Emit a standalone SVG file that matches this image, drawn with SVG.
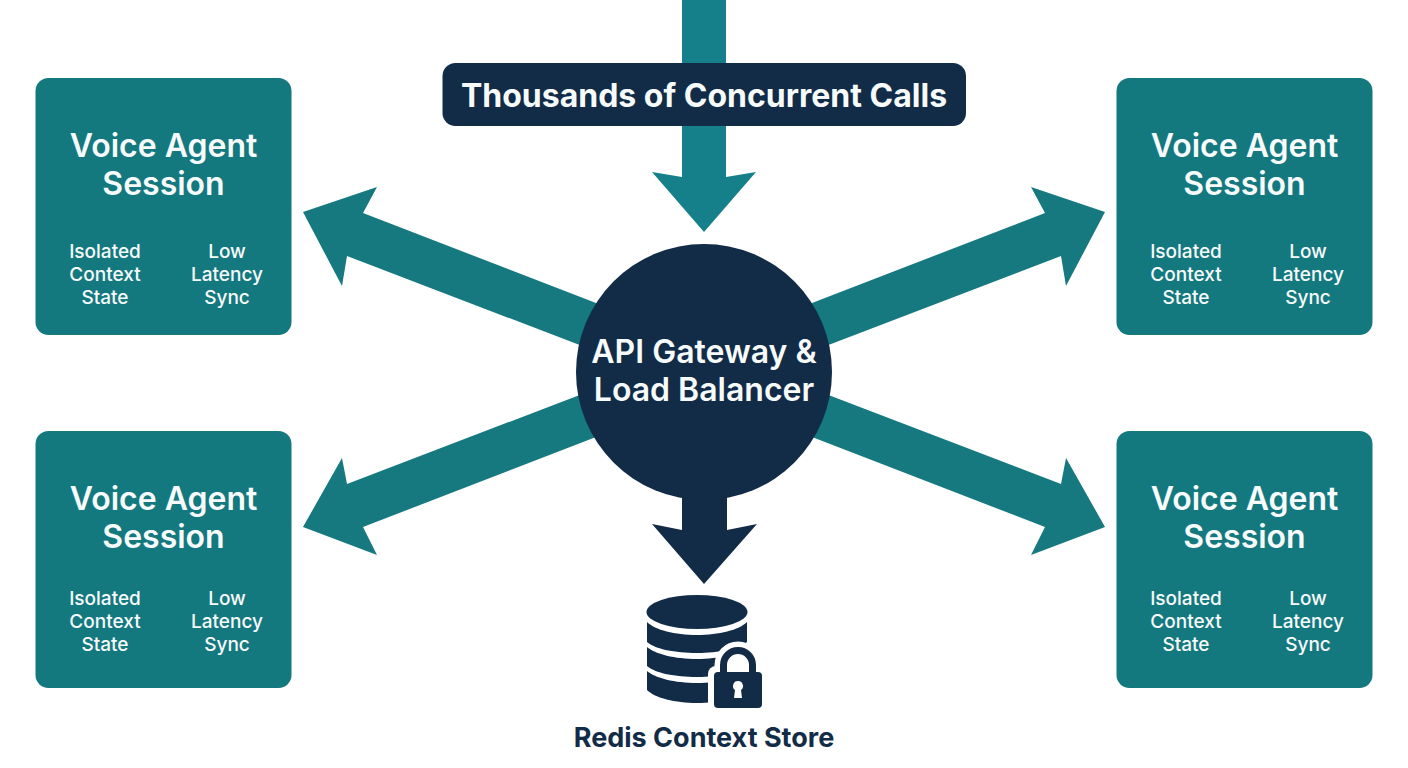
<svg xmlns="http://www.w3.org/2000/svg" width="1408" height="768" viewBox="0 0 1408 768">
<style>
text{font-family:Inter,"Liberation Sans",sans-serif;text-anchor:middle;fill:#f7fbfb}
.card{fill:#14787f}
.t{font-size:32px;font-weight:600}
.p{font-size:32px;font-weight:700}
.s{font-size:19px;font-weight:500}
.teal{fill:#15797f}
.top{fill:#15808a}
.navy{fill:#122c47}
</style>
<rect width="1408" height="768" fill="#fff"/>
<g id="connectors">
<polygon class="top" points="682,0 726,0 726,177 756,172 704,232 652,172 682,177"/>
<polygon class="teal" points="303,212 377,187 363,213 640,320 624,362 347,256 342,286"/>
<polygon class="teal" points="1105,212 1031,187 1045,213 768,320 784,362 1061,256 1066,286"/>
<polygon class="teal" points="303,527 377,555 363,527 640,420 624,378 347,484 342,458"/>
<polygon class="teal" points="1105,527 1031,555 1045,527 768,420 784,378 1061,484 1066,458"/>
<polygon class="navy" points="682,470 727,470 727,530 757,524 704,584 652,524 682,530"/>
</g>
<g id="ingress">
<rect class="navy" x="442.500" y="63" width="523.500" height="63" rx="13"/>
<text class="p" x="704" y="106.500">Thousands of Concurrent Calls</text>
</g>
<g id="gateway">
<circle class="navy" cx="704" cy="372" r="128"/>
<text class="t" x="704" y="363">API Gateway &amp;</text>
<text class="t" x="704" y="401">Load Balancer</text>
</g>
<g id="session-top-left">
<rect class="card" x="35.500" y="78" width="256" height="257" rx="13"/>
<text class="t" x="163.500" y="157">Voice Agent</text><text class="t" x="163.500" y="195">Session</text>
<text class="s" x="105" y="258">Isolated</text><text class="s" x="105" y="281">Context</text><text class="s" x="105" y="304">State</text>
<text class="s" x="227" y="258">Low</text><text class="s" x="227" y="281">Latency</text><text class="s" x="227" y="304">Sync</text>
</g>
<g id="session-top-right">
<rect class="card" x="1116.500" y="78" width="256" height="257" rx="13"/>
<text class="t" x="1244.500" y="157">Voice Agent</text><text class="t" x="1244.500" y="195">Session</text>
<text class="s" x="1186" y="258">Isolated</text><text class="s" x="1186" y="281">Context</text><text class="s" x="1186" y="304">State</text>
<text class="s" x="1308" y="258">Low</text><text class="s" x="1308" y="281">Latency</text><text class="s" x="1308" y="304">Sync</text>
</g>
<g id="session-bottom-left">
<rect class="card" x="35.500" y="431" width="256" height="257" rx="13"/>
<text class="t" x="163.500" y="510">Voice Agent</text><text class="t" x="163.500" y="548">Session</text>
<text class="s" x="105" y="605">Isolated</text><text class="s" x="105" y="628">Context</text><text class="s" x="105" y="651">State</text>
<text class="s" x="227" y="605">Low</text><text class="s" x="227" y="628">Latency</text><text class="s" x="227" y="651">Sync</text>
</g>
<g id="session-bottom-right">
<rect class="card" x="1116.500" y="431" width="256" height="257" rx="13"/>
<text class="t" x="1244.500" y="510">Voice Agent</text><text class="t" x="1244.500" y="548">Session</text>
<text class="s" x="1186" y="605">Isolated</text><text class="s" x="1186" y="628">Context</text><text class="s" x="1186" y="651">State</text>
<text class="s" x="1308" y="605">Low</text><text class="s" x="1308" y="628">Latency</text><text class="s" x="1308" y="651">Sync</text>
</g>
<g id="redis-store">
<ellipse class="navy" cx="697" cy="612" rx="50.500" ry="17"/>
<path class="navy" d="M647 622 C655 630 675 635 697 635 C719 635 739 630 747 622 V642 C739 649 719 653 697 653 C675 653 655 649 647 642Z"/>
<path class="navy" d="M647 647 C655 654 675 659 697 659 C719 659 739 654 747 647 V666 C739 673 719 677 697 677 C675 677 655 673 647 666Z"/>
<path class="navy" d="M647 671 C655 678 675 683 697 683 C719 683 739 678 747 671 V690 C739 698 719 703 697 703 C675 703 655 698 647 690Z"/>
<path d="M723.500 676 V665 A14.500 14.500 0 0 1 752.500 665 V676" fill="#fff" stroke="#fff" stroke-width="18"/>
<rect x="708" y="666" width="60" height="48" rx="8" fill="#fff"/>
<path d="M723.500 676 V665 A14.500 14.500 0 0 1 752.500 665 V676" fill="none" stroke="#122c47" stroke-width="7"/>
<rect class="navy" x="714" y="672" width="48" height="36" rx="4"/>
<path d="M738 681 A5 5 0 0 1 741 690 L742 698 H734 L735 690 A5 5 0 0 1 738 681Z" fill="#fff"/>
<text x="704" y="747" style="font-size:27px;font-weight:700;fill:#122c47">Redis Context Store</text>
</g>
</svg>
